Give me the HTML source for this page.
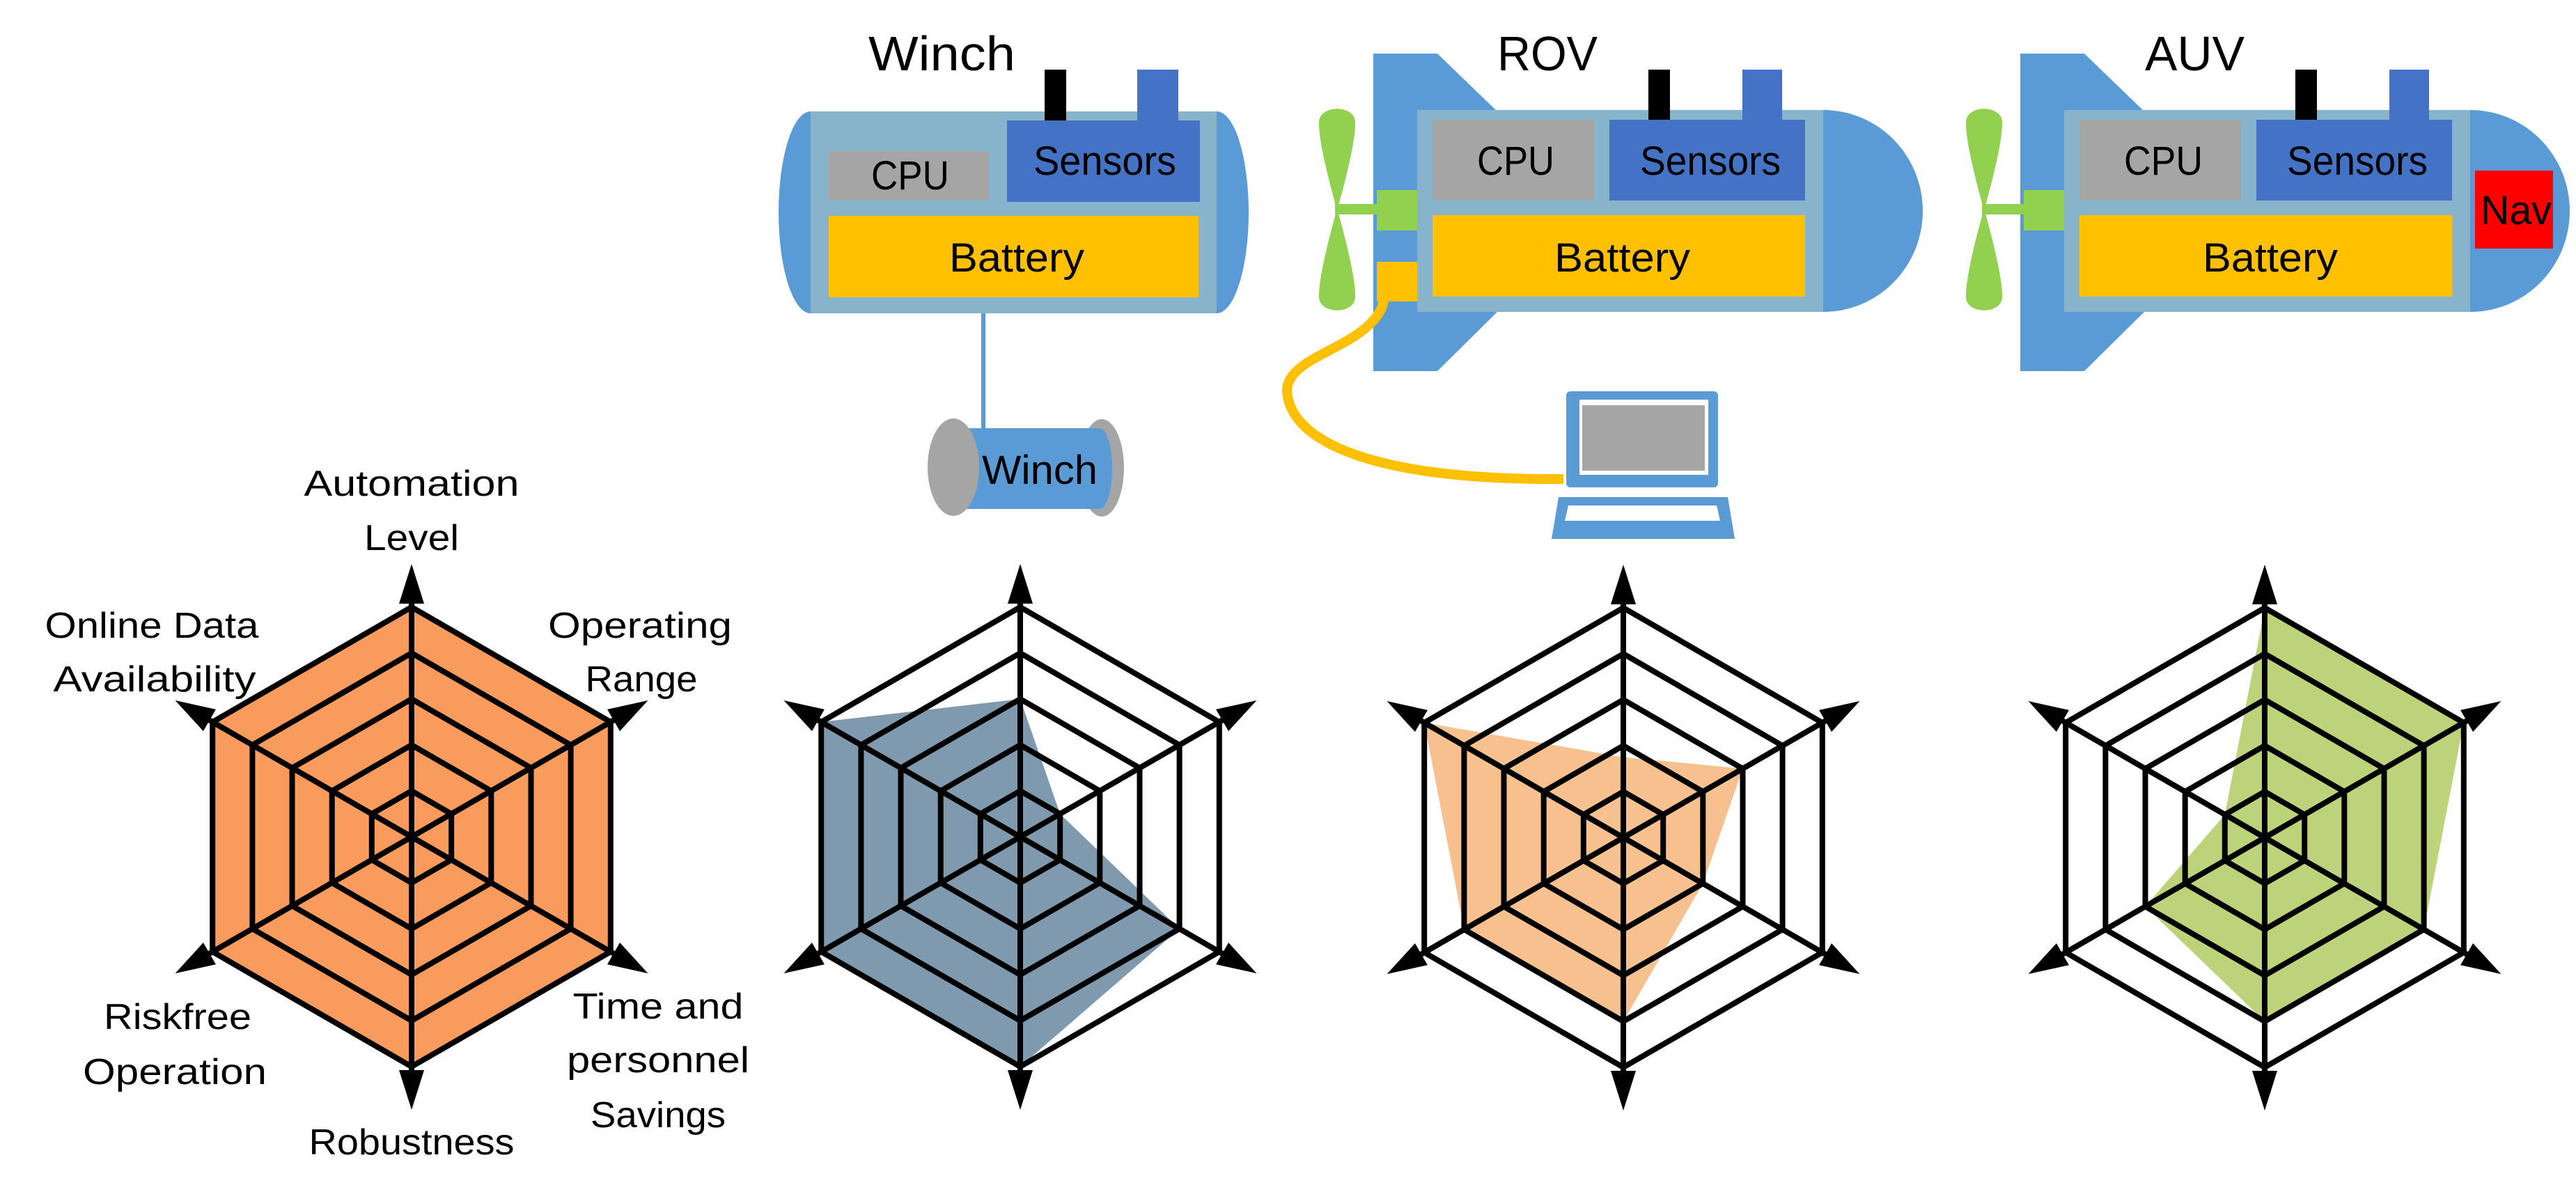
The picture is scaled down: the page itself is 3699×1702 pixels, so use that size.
<!DOCTYPE html>
<html><head><meta charset="utf-8"><style>
html,body{margin:0;padding:0;background:#fff;}
svg{display:block;}
text{font-family:"Liberation Sans",sans-serif;fill:#000;}
</style></head><body>
<svg width="3699" height="1702" viewBox="0 0 3699 1702" xmlns="http://www.w3.org/2000/svg">
<defs>
<marker id="ah" markerUnits="userSpaceOnUse" markerWidth="80" markerHeight="60" viewBox="-10 -30 80 60" refX="0" refY="0" orient="auto">
<path d="M-5,-18 L52,0 L-5,18 z" fill="#000"/>
</marker>
<g id="grid" fill="none" stroke="#000" stroke-width="8">
<polygon points="0,-330 285.8,-165 285.8,165 0,330 -285.8,165 -285.8,-165"/>
<polygon points="0,-264 228.6,-132 228.6,132 0,264 -228.6,132 -228.6,-132"/>
<polygon points="0,-198 171.5,-99 171.5,99 0,198 -171.5,99 -171.5,-99"/>
<polygon points="0,-132 114.3,-66 114.3,66 0,132 -114.3,66 -114.3,-66"/>
<polygon points="0,-66 57.2,-33 57.2,33 0,66 -57.2,33 -57.2,-33"/>
<line x1="0" y1="0" x2="0" y2="-340" marker-end="url(#ah)"/>
<line x1="0" y1="0" x2="294.4" y2="-170" marker-end="url(#ah)"/>
<line x1="0" y1="0" x2="294.4" y2="170" marker-end="url(#ah)"/>
<line x1="0" y1="0" x2="0" y2="340" marker-end="url(#ah)"/>
<line x1="0" y1="0" x2="-294.4" y2="170" marker-end="url(#ah)"/>
<line x1="0" y1="0" x2="-294.4" y2="-170" marker-end="url(#ah)"/>
</g>
</defs>

<g transform="translate(591,1202)">
<polygon points="0,-330 285.8,-165 285.8,165 0,330 -285.8,165 -285.8,-165" fill="#F99B5C"/>
<use href="#grid"/>
</g>
<g transform="translate(1465,1202)">
<polygon points="0,-198 57.2,-33 228.6,132 0,330 -285.8,165 -285.8,-165" fill="#7F9AAF"/>
<use href="#grid"/>
</g>
<g transform="translate(2331,1203)">
<polygon points="0,-115.5 171.5,-99 114.3,66 0,264 -228.6,132 -285.8,-165" fill="#F7C08F"/>
<use href="#grid"/>
</g>
<g transform="translate(3252,1203)">
<polygon points="0,-330 285.8,-165 228.6,132 0,264 -171.5,99 -57.2,-33" fill="#BDD37A"/>
<use href="#grid"/>
</g>

<g font-size="52" text-anchor="middle">
<text x="591" y="712" textLength="309" lengthAdjust="spacingAndGlyphs">Automation</text>
<text x="591" y="790" textLength="136" lengthAdjust="spacingAndGlyphs">Level</text>
<text x="218" y="916" textLength="307" lengthAdjust="spacingAndGlyphs">Online Data</text>
<text x="222" y="993" textLength="291" lengthAdjust="spacingAndGlyphs">Availability</text>
<text x="919" y="916" textLength="264" lengthAdjust="spacingAndGlyphs">Operating</text>
<text x="921" y="993" textLength="161" lengthAdjust="spacingAndGlyphs">Range</text>
<text x="255" y="1478" textLength="212" lengthAdjust="spacingAndGlyphs">Riskfree</text>
<text x="251" y="1557" textLength="264" lengthAdjust="spacingAndGlyphs">Operation</text>
<text x="591" y="1658" textLength="295" lengthAdjust="spacingAndGlyphs">Robustness</text>
<text x="945" y="1463" textLength="245" lengthAdjust="spacingAndGlyphs">Time and</text>
<text x="945" y="1540" textLength="262" lengthAdjust="spacingAndGlyphs">personnel</text>
<text x="945" y="1619" textLength="194" lengthAdjust="spacingAndGlyphs">Savings</text>
</g>

<g font-size="70">
<text x="1247" y="101" textLength="211" lengthAdjust="spacingAndGlyphs">Winch</text>
<text x="2150" y="101" textLength="144" lengthAdjust="spacingAndGlyphs">ROV</text>
<text x="3080" y="101" textLength="143" lengthAdjust="spacingAndGlyphs">AUV</text>
</g>

<line x1="1412" y1="450" x2="1412" y2="615" stroke="#5B9BD5" stroke-width="6"/>
<ellipse cx="1164" cy="305" rx="46" ry="145" fill="#5B9BD5"/>
<ellipse cx="1747" cy="305" rx="46" ry="145" fill="#5B9BD5"/>
<rect x="1164" y="160" width="583" height="290" fill="#87B4CB"/>
<rect x="1500" y="100" width="31" height="75" fill="#000"/>
<rect x="1633" y="100" width="59" height="75" fill="#4472C4"/>
<rect x="1190" y="217" width="230" height="71" fill="#A5A5A5"/>
<rect x="1446" y="173" width="277" height="117" fill="#4472C4"/>
<rect x="1190" y="310" width="531" height="117" fill="#FFC000"/>
<g font-size="58">
<text x="1251" y="272" textLength="112" lengthAdjust="spacingAndGlyphs">CPU</text>
<text x="1484" y="251" textLength="205" lengthAdjust="spacingAndGlyphs">Sensors</text>
<text x="1363" y="390" textLength="194" lengthAdjust="spacingAndGlyphs">Battery</text>
</g>
<ellipse cx="1582" cy="672" rx="32" ry="70" fill="#A5A5A5"/>
<rect x="1384" y="615" width="195" height="116" fill="#5B9BD5"/>
<ellipse cx="1579" cy="673" rx="18" ry="58" fill="#5B9BD5"/>
<ellipse cx="1369" cy="671" rx="37" ry="70" fill="#A5A5A5"/>
<text x="1410" y="695" font-size="58" textLength="166" lengthAdjust="spacingAndGlyphs">Winch</text>

<g id="rov">
<polygon points="1972,77 2064,77 2150,160 2150,448 2064,533 1972,533" fill="#5B9BD5"/>
<ellipse cx="2618" cy="303" rx="143" ry="145" fill="#5B9BD5"/>
<rect x="2035" y="158" width="583" height="290" fill="#87B4CB"/>
<rect x="2367" y="100" width="31" height="73" fill="#000"/>
<rect x="2502" y="100" width="57" height="73" fill="#4472C4"/>
<rect x="2057" y="172" width="232" height="116" fill="#A5A5A5"/>
<rect x="2311" y="172" width="281" height="116" fill="#4472C4"/>
<rect x="2057" y="309" width="535" height="117" fill="#FFC000"/>
<rect x="1917" y="293" width="118" height="15" fill="#92D050"/>
<rect x="1977" y="273" width="58" height="58" fill="#92D050"/>
<path d="M1920,302 C1908,260 1893,200 1894,175 C1895,150 1945,150 1946,175 C1947,200 1932,260 1920,302 z" fill="#92D050"/>
<path d="M1920,300 C1908,342 1893,402 1894,427 C1895,452 1945,452 1946,427 C1947,402 1932,342 1920,300 z" fill="#92D050"/>
</g>
<rect x="1977" y="376" width="58" height="57" fill="#FFC000"/>
<path d="M1995,400 L1985,440 C1960,500 1850,510 1848,560 C1850,630 1960,690 2245,688" fill="none" stroke="#FFC000" stroke-width="14"/>
<g font-size="58">
<text x="2121" y="251" textLength="111" lengthAdjust="spacingAndGlyphs">CPU</text>
<text x="2355" y="251" textLength="202" lengthAdjust="spacingAndGlyphs">Sensors</text>
<text x="2232" y="390" textLength="195" lengthAdjust="spacingAndGlyphs">Battery</text>
</g>
<rect x="2249" y="562" width="218" height="138" rx="6" fill="#5B9BD5"/>
<rect x="2268" y="574" width="185" height="108" fill="#fff"/>
<rect x="2272" y="582" width="176" height="94" fill="#A5A5A5"/>
<polygon points="2238,714 2481,714 2491,774 2228,774" fill="#5B9BD5"/>
<polygon points="2252,726 2465,726 2470,748 2247,748" fill="#fff"/>

<use href="#rov" transform="translate(929,0)"/>
<rect x="3554" y="245" width="112" height="112" fill="#FF0000"/>
<g font-size="58">
<text x="3050" y="251" textLength="113" lengthAdjust="spacingAndGlyphs">CPU</text>
<text x="3284" y="251" textLength="202" lengthAdjust="spacingAndGlyphs">Sensors</text>
<text x="3163" y="390" textLength="194" lengthAdjust="spacingAndGlyphs">Battery</text>
<text x="3562" y="322" textLength="102" lengthAdjust="spacingAndGlyphs">Nav</text>
</g>
</svg>
</body></html>
